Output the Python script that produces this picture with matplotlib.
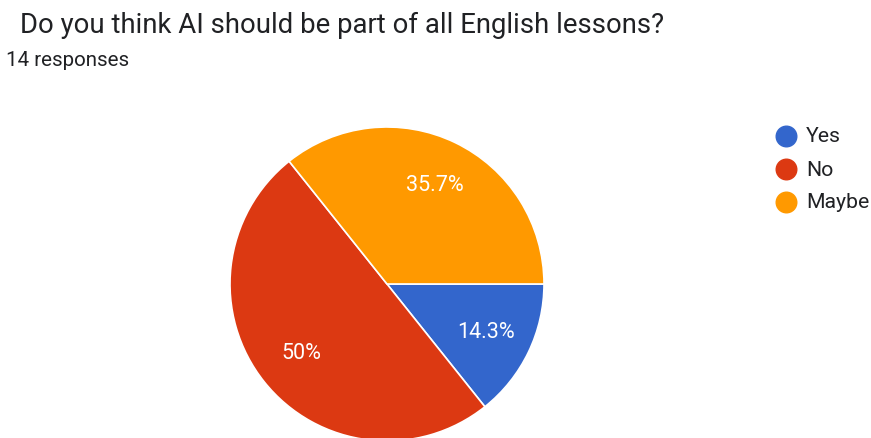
import matplotlib
matplotlib.use("Agg")
import matplotlib.pyplot as plt

categories = ["Yes", "No", "Maybe"]
counts = [2, 7, 5]
colors = ["#3366CC", "#DC3912", "#FF9900"]
title = "Do you think AI should be part of all English lessons?"
subtitle = "14 responses"

W, H = 871, 439
fig = plt.figure(figsize=(W / 100, H / 100), dpi=100)
ax = fig.add_axes([0, 0, 1, 1])
ax.set_xlim(0, W)
ax.set_ylim(0, H)
ax.set_aspect("equal")
ax.axis("off")

cx, cy, R = 387, H - 285, 157

def fmt(p):
    s = f"{p:.1f}"
    if s.endswith(".0"):
        s = s[:-2]
    return s + "%"

wedges, texts, autotexts = ax.pie(
    counts, colors=colors, startangle=0, counterclock=False,
    center=(cx, cy), radius=R, autopct=fmt, pctdistance=0.7,
    wedgeprops=dict(edgecolor="white", linewidth=1.2),
    textprops=dict(color="white", fontsize=15.5, family="Roboto"),
)
ax.set_xlim(0, W)
ax.set_ylim(0, H)

fig.text(20 / W, 1 - 25 / H, title, fontsize=19.8, family="Roboto",
         color="#202124", va="center", ha="left")
fig.text(6 / W, 1 - 60 / H, subtitle, fontsize=14.8, family="Roboto",
         color="#202124", va="center", ha="left")

for i, (cat, col) in enumerate(zip(categories, colors)):
    y = H - (137 + 33 * i)
    ax.scatter([786], [y], s=220, color=col, clip_on=False)
    ax.text(806, y, cat, fontsize=15.3, family="Roboto", color="#202124",
            va="center", ha="left")

fig.savefig("out.png", dpi=100, facecolor="white")
